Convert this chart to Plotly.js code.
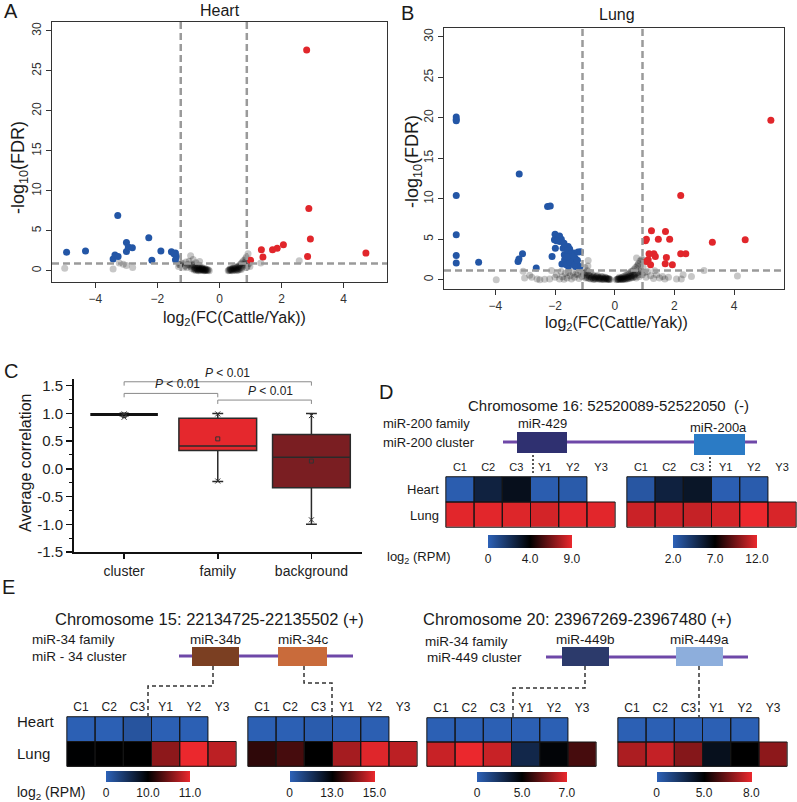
<!DOCTYPE html>
<html><head><meta charset="utf-8">
<script src="https://cdn.plot.ly/plotly-3.0.1.min.js"></script>
<style>html,body{margin:0;padding:0;background:#fff}</style>
</head><body><div id="chart" style="width:797px;height:802px"></div>
<script>
// ================= DATA =================
// Panel A (Heart volcano): log2 fold change (x) and -log10 FDR (y)
const heartDownX = [-4.93,-4.32,-3.28,-3.43,-3.37,-3.27,-3.00,-3.00,-2.94,-2.81,-2.28,-2.18,-1.89,-1.55,-1.42,-1.39,-1.42,-1.47];
const heartDownY = [ 2.33, 2.46, 6.92, 1.46, 1.96, 1.79, 3.54, 2.42, 2.96, 2.88, 4.13, 1.33, 2.46, 2.38, 2.21, 1.79, 1.38, 2.13];
const heartUpX = [2.81,2.88,2.93,2.84,4.72,1.00,1.35,1.40,1.71,1.86,2.06];
const heartUpY = [27.6,7.79,3.96,1.79,2.21,1.33,2.63,1.71,2.63,2.83,3.25];
const heartNsOuterX = [-4.99,-3.43,-3.10,-3.00,-2.80,-3.23,1.33,2.57,0.92,-0.93,-1.28];
const heartNsOuterY = [ 0.33, 0.21, 0.83, 0.67, 0.42, 0.96,0.96,1.25,2.13, 1.88, 0.75];
const heartNsNegX = [-1.32,-1.28,-1.25,-1.20,-1.15,-1.10,-1.05,-1.02,-0.98,-0.92,
                     -0.90,-0.88,-0.85,-0.82,-0.80,-0.78,-0.76,-0.74,-0.72,-0.70,
                     -0.68,-0.66,-0.64,-0.62,-0.60,-0.58,-0.56,-0.54,-0.52,-0.50,
                     -0.48,-0.46,-0.44,-0.42,-0.40,-0.38,-0.72,-0.86,-0.95,-1.08,
                     -0.66,-0.82,-0.78,-0.75,-0.70,-0.65,-0.62,-0.57,-0.53,-0.49,
                     -0.45,-0.60,-0.68,-0.55,-0.47,-0.36,-0.33];
const heartNsNegY = [0.55,0.75,0.90,0.95,0.45,0.60,0.40,0.80,1.20,0.50,
                     0.30,0.65,1.40,0.25,0.45,0.15,1.00,0.35,0.20,0.10,
                     0.50,0.30,1.15,0.15,0.25,0.10,0.40,0.20,0.05,0.15,
                     0.30,0.10,0.05,0.20,0.10,0.05,0.60,0.80,0.70,1.10,
                     0.70,0.10,0.30,0.05,0.25,0.12,0.05,0.22,0.12,0.02,
                     0.18,0.35,0.02,0.30,0.08,0.12,0.02];
const heartNsPosX = [0.28,0.30,0.32,0.34,0.36,0.38,0.40,0.42,0.44,0.46,
                     0.48,0.50,0.52,0.54,0.56,0.58,0.60,0.62,0.64,0.66,
                     0.68,0.70,0.72,0.74,0.76,0.78,0.80,0.82,0.84,0.86,
                     0.87,0.90,0.95,0.98,0.45,0.55,0.65,0.35,0.50,0.40,
                     0.60,0.70];
const heartNsPosY = [0.02,0.10,0.05,0.15,0.08,0.20,0.12,0.25,0.05,0.30,
                     0.18,0.10,0.35,0.22,0.40,0.15,0.50,0.30,0.60,0.75,
                     0.45,0.90,0.35,1.10,0.60,1.30,0.80,0.96,1.50,1.70,
                     0.40,0.60,0.90,0.55,0.40,0.05,0.20,0.30,0.55,0.02,
                     0.08,0.15];

// Panel B (Lung volcano)
const lungDownX = [-5.31,-5.31,-5.31,-5.31,-5.31,-5.31,-5.31,-4.56,-3.20,-3.24,
                   -3.21,-3.09,-2.63,-2.25,-2.16,-2.10,-2.00,-2.02,-1.99,-1.90,
                   -1.84,-1.79,-1.77,-1.73,-1.69,-1.64,-1.56,-1.51,-1.68,-1.45,
                   -1.42,-1.37,-1.33,-1.23,-1.17,-1.31,-1.55,-1.62,-1.15,-1.28,
                   -1.85,-1.95,-1.70,-1.58,-1.48,-1.40,-1.50,-1.35,-1.25,-1.60];
const lungDownY = [20.1,19.8,19.65,10.4,5.55,3.00,2.05,2.14,13.07,2.26,
                   2.55,3.20,1.44,9.04,9.12,2.88,5.63,4.93,3.90,5.01,
                   4.73,5.01,1.93,3.90,3.08,3.90,4.11,3.78,2.47,2.55,
                   2.06,3.29,2.67,3.41,1.64,1.64,1.64,1.85,3.45,2.06,
                   5.40,4.80,4.50,3.60,3.20,2.90,2.20,1.80,2.40,2.80];
const lungUpX = [5.23,2.21,1.70,1.23,1.06,1.03,1.46,1.84,3.27,4.37,2.21,2.38,1.31,1.15,1.36,1.73,1.12,1.06,1.20,1.69,1.93];
const lungUpY = [19.7,10.4,5.96,6.04,5.01,4.81,5.01,5.01,4.64,4.93,3.20,3.20,3.20,3.20,2.88,2.75,2.47,2.26,1.85,1.97,1.85];
const lungNsNegX = [-3.97,-3.07,-2.85,-3.02,-2.78,-2.60,-2.51,-2.35,-2.18,-2.12,
                    -2.00,-1.95,-1.85,-1.80,-1.75,-1.70,-1.65,-1.60,-1.55,-1.50,
                    -1.45,-1.40,-1.35,-1.30,-1.25,-1.20,-1.15,-1.10,-1.05,-1.00,
                    -0.95,-0.92,-0.89,-0.88,-0.85,-0.82,-0.80,-0.78,-0.75,-0.72,
                    -0.70,-0.68,-0.65,-0.62,-0.60,-0.58,-0.55,-0.52,-0.50,-0.48,
                    -0.45,-0.42,-0.40,-0.38,-0.35,-0.32,-0.30,-0.28,-0.25,-0.22,
                    -0.20,-0.90,-0.98,-0.95,-0.90,-0.85,-0.80,-0.75,-0.70,-0.65,
                    -0.60,-0.55,-0.50,-0.45,-0.40,-0.35,-0.30,-0.25,-0.20,-0.18,
                    -0.15,-1.02,-0.98];
const lungNsNegY = [0.00,1.03,0.55,0.20,0.30,0.10,0.00,0.05,0.08,1.15,
                    0.30,0.60,0.10,1.00,0.35,0.05,0.80,0.20,0.90,0.50,
                    0.10,0.90,0.30,0.70,0.60,0.15,1.00,0.40,0.75,1.50,
                    0.30,1.10,2.38,0.60,0.15,0.90,0.40,0.20,0.65,0.10,
                    0.45,0.25,0.05,0.35,0.15,0.55,0.10,0.30,0.05,0.20,
                    0.40,0.10,0.25,0.05,0.15,0.30,0.08,0.20,0.05,0.12,
                    0.02,1.70,0.90,0.50,0.20,0.45,0.10,0.30,0.05,0.20,
                    0.40,0.25,0.15,0.05,0.35,0.02,0.20,0.10,0.15,0.05,
                    0.02,0.60,0.20];
const lungNsPosX = [0.05,0.08,0.10,0.12,0.15,0.18,0.20,0.22,0.25,0.28,
                    0.30,0.32,0.35,0.38,0.40,0.42,0.45,0.48,0.50,0.52,
                    0.55,0.58,0.60,0.62,0.65,0.68,0.70,0.72,0.75,0.78,
                    0.80,0.82,0.85,0.88,0.90,0.92,0.95,1.00,1.05,1.10,
                    1.20,1.30,1.34,1.40,1.50,1.60,1.68,1.80,2.07,2.23,
                    2.29,2.57,2.99,4.11,0.73,0.78,0.95,0.35,0.45,0.55,
                    0.65,0.25,0.15,0.12,0.18,0.22,0.28,0.32,0.38,0.42,
                    0.48,0.52,0.58,0.62,0.68,0.72,0.80,0.85];
const lungNsPosY = [0.00,0.05,0.10,0.02,0.15,0.08,0.20,0.05,0.30,0.12,
                    0.40,0.20,0.50,0.30,0.60,0.10,0.70,0.40,0.85,0.20,
                    1.00,0.50,1.10,0.30,1.30,0.70,1.50,0.20,1.70,0.90,
                    2.00,0.40,2.30,1.20,2.50,0.60,1.60,0.90,0.30,1.00,
                    0.50,0.15,1.10,0.60,0.20,0.40,0.08,0.30,0.08,0.08,
                    0.60,0.40,1.15,0.45,2.67,1.85,2.47,0.05,0.25,0.35,
                    0.55,0.02,0.30,0.10,0.02,0.18,0.05,0.10,0.12,0.30,
                    0.15,0.45,0.25,0.60,0.35,0.80,0.60,1.00];

// Panel C (average correlation boxplots)
const corrGroups = ['cluster','family','background'];
const corrQ1     = [0.97, 0.33, -0.34];
const corrMedian = [0.98, 0.41,  0.21];
const corrQ3     = [0.99, 0.91,  0.62];
const corrLower  = [0.96,-0.23, -1.00];
const corrUpper  = [1.00, 1.00,  1.00];
const corrMean   = [0.96, 0.54,  0.14];
const corrP1     = [0.93,-0.22, -0.92];
const corrP99    = [0.99, 0.99,  0.96];
const corrTickVals = [-1.5,-1.0,-0.5,0.0,0.5,1.0,1.5];
const corrTickText = ['-1.5','-1.0','-0.5','0.0','0.5','1.0','1.5'];

// Panels D/E heatmaps: log2(RPM)
const heatCols = ['C1','C2','C3','Y1','Y2','Y3'];
const heatRows = ['Heart','Lung'];
const miR429Heart  = [0.2, 2.6, 3.4, 0.2, 0.3, null];
const miR429Lung   = [8.8, 8.8, 8.7, 8.5, 8.8, 8.8];
const miR429Scale  = [0, 4, 9];
const miR200aHeart = [2.6, 5.3, 5.9, 2.2, 2.3, null];
const miR200aLung  = [11.3, 11.3, 11.2, 11.5, 12.0, 11.6];
const miR200aScale = [2, 7, 12];
const miR34bHeart  = [0.2, 0.2, 1.4, 0.2, 0.2, null];
const miR34bLung   = [9.9, 10.0, 10.0, 10.6, 11.0, 10.8];
const miR34bScale  = [0, 10, 11];
const miR34cHeart  = [0.3, 0.3, 0.8, 0.3, 0.4, null];
const miR34cLung   = [13.4, 13.6, 13.0, 14.4, 14.9, 14.6];
const miR34cScale  = [0, 13, 15];
const miR449bHeart = [0.1, 0.1, 0.1, 0.1, 0.1, null];
const miR449bLung  = [6.7, 7.0, 6.7, 3.0, 4.8, 5.6];
const miR449bScale = [0, 5, 7];
const miR449aHeart = [0.1, 0.1, 0.1, 0.1, 0.1, null];
const miR449aLung  = [7.2, 7.5, 6.7, 4.2, 5.0, 6.8];
const miR449aScale = [0, 5, 8];

// ================= LAYOUT HELPERS =================
const W = 797, H = 802;
const X = px => px / W;
const Y = py => 1 - py / H;
const domX = (l, r) => [X(l), Math.min(1, X(r))];
const domY = (t, b) => [Y(b), Y(t)];
const FONT = 'Liberation Sans, Arial, Helvetica, sans-serif';
const BLUE = '#2356A6', RED = '#E1262B', NS = 'rgba(0,0,0,0.22)';
const HEAT_SCALE = [[0,'#2D62B8'],[0.5,'#000000'],[1,'#EB282D']];

const traces = [];
const shapes = [];
const annotations = [];
const layout = {
  width: W, height: H,
  margin: {l:0, r:0, t:0, b:0, autoexpand:false},
  paper_bgcolor: '#ffffff', plot_bgcolor: 'rgba(0,0,0,0)',
  font: {family: FONT, color: '#1a1a1a'},
  showlegend: false
};

function pts(x, y, xa, ya, color) {
  traces.push({type:'scatter', mode:'markers', x, y, xaxis:xa, yaxis:ya,
    marker:{size:7, color, line:{width:0}}, hoverinfo:'skip', cliponaxis:true});
}

function volcanoAxes(n, xd, yd, xr, yr) {
  const common = {showgrid:false, zeroline:false, showline:true, mirror:true,
    linecolor:'#333', linewidth:1.2, ticks:'outside', ticklen:5, tickwidth:1,
    tickcolor:'#333', tickfont:{size:12, color:'#333'}, fixedrange:true};
  layout['xaxis'+n] = Object.assign({}, common, {domain:xd, anchor:'y'+n, range:xr, dtick:2, tick0:0});
  layout['yaxis'+n] = Object.assign({}, common, {domain:yd, anchor:'x'+n, range:yr, dtick:5, tick0:0, tickangle:-90});
}

// ---- Panel A ----
volcanoAxes('', domX(52,387), domY(22,282), [-5.4,5.4], [-1.4,31.1]);
layout.xaxis.anchor = 'y'; layout.yaxis.anchor = 'x';
pts(heartNsOuterX.concat(heartNsNegX, heartNsPosX), heartNsOuterY.concat(heartNsNegY, heartNsPosY), 'x', 'y', NS);
pts(heartDownX, heartDownY, 'x', 'y', BLUE);
pts(heartUpX, heartUpY, 'x', 'y', RED);
const heartThrX = [-1.25, 0.88], heartThrY = 0.92;
// ---- Panel B ----
volcanoAxes('2', domX(444,784), domY(28,289), [-5.72,5.67], [-1.15,31.1]);
pts(lungNsNegX.concat(lungNsPosX), lungNsNegY.concat(lungNsPosY), 'x2', 'y2', NS);
pts(lungDownX, lungDownY, 'x2', 'y2', BLUE);
pts(lungUpX, lungUpY, 'x2', 'y2', RED);
const lungThrX = [-1.08, 0.93], lungThrY = 1.15;

const dashStyle = {color:'#9a9a9a', width:2.5, dash:'7px,4px'};
[['x','y',heartThrX,heartThrY],['x2','y2',lungThrX,lungThrY]].forEach(([xa,ya,tx,ty]) => {
  tx.forEach(v => shapes.push({type:'line', xref:xa, yref:ya+' domain', x0:v, x1:v, y0:0, y1:1, line:dashStyle}));
  shapes.push({type:'line', xref:xa+' domain', yref:ya, x0:0, x1:1, y0:ty, y1:ty, line:dashStyle});
});

// ---- Panel C ----
layout.xaxis3 = {domain:domX(74,362), anchor:'y3', range:[-0.535,2.54], tickvals:[0,1,2], ticktext:corrGroups,
  showgrid:false, zeroline:false, showline:true, linecolor:'#111', linewidth:2, ticks:'outside', ticklen:5,
  tickwidth:1.5, tickcolor:'#111', tickfont:{size:14, color:'#222'}, fixedrange:true};
layout.yaxis3 = {domain:domY(379,552), anchor:'x3', range:[-1.5,1.62], tickvals:corrTickVals, ticktext:corrTickText,
  showgrid:false, zeroline:false, showline:true, linecolor:'#111', linewidth:2, ticks:'outside', ticklen:6,
  tickwidth:1.5, tickcolor:'#111', tickfont:{size:15, color:'#222'}, fixedrange:true,
  minor:{dtick:0.25, tick0:0, ticks:'outside', ticklen:3, tickcolor:'#111', tickwidth:1}};
const boxFill = ['#111111', '#E5282D', '#7A1E22'];
const boxWidth = [0.7, 0.83, 0.83];
corrGroups.forEach((g, i) => {
  traces.push({type:'box', xaxis:'x3', yaxis:'y3', x:[i], q1:[corrQ1[i]], median:[corrMedian[i]], q3:[corrQ3[i]],
    lowerfence:[corrLower[i]], upperfence:[corrUpper[i]], width:boxWidth[i], whiskerwidth:0.14,
    fillcolor:boxFill[i], line:{color:i===0?'#111':'#2a2a2a', width:i===0?2:1.5}, boxpoints:false, hoverinfo:'skip'});
});
traces.push({type:'scatter', mode:'markers', xaxis:'x3', yaxis:'y3', x:[0,1,2], y:corrMean,
  marker:{symbol:'square-open', size:4, color:'#333', line:{width:1}}, hoverinfo:'skip'});
traces.push({type:'scatter', mode:'markers', xaxis:'x3', yaxis:'y3', x:[0,1,2,0,1,2], y:corrP1.concat(corrP99),
  marker:{symbol:'x-thin-open', size:5, color:'#333', line:{width:1, color:'#333'}}, hoverinfo:'skip'});
const brackets = [[0,2,1.57,1.10],[0,1,1.36,0.57],[1,2,1.24,1.56]];
brackets.forEach(([a,b,yv,tx]) => {
  shapes.push({type:'path', xref:'x3', yref:'y3', path:`M ${a},${yv-0.07} L ${a},${yv} L ${b},${yv} L ${b},${yv-0.07}`,
    line:{color:'#8a8a8a', width:1}});
  annotations.push({xref:'x3', yref:'y3', x:tx, y:yv, yanchor:'bottom', yshift:0, showarrow:false,
    text:'<i>P</i> &lt; 0.01', font:{size:12, color:'#222'}});
});

// ---- Heatmaps (D, E) ----
const norm = (v, s) => v === null ? null :
  (v <= s[1] ? 0.5 * (v - s[0]) / (s[1] - s[0]) : 0.5 + 0.5 * (v - s[1]) / (s[2] - s[1]));
const fmt = v => v === 0 ? '0' : v.toFixed(1);
const heatmaps = [
  {n:4, heart:miR429Heart,  lung:miR429Lung,  scale:miR429Scale,  xd:[445,616], yd:[476,528], cb:[530,535,84,13], tf:11},
  {n:5, heart:miR200aHeart, lung:miR200aLung, scale:miR200aScale, xd:[626,797], yd:[476,528], cb:[715,535,84,13], tf:11},
  {n:6, heart:miR34bHeart,  lung:miR34bLung,  scale:miR34bScale,  xd:[66,237],  yd:[716,767], cb:[148,771,84,11], tf:12},
  {n:7, heart:miR34cHeart,  lung:miR34cLung,  scale:miR34cScale,  xd:[247,418], yd:[716,767], cb:[332,771,85,11], tf:12},
  {n:8, heart:miR449bHeart, lung:miR449bLung, scale:miR449bScale, xd:[426,597], yd:[717,767], cb:[522,772,90,10], tf:12},
  {n:9, heart:miR449aHeart, lung:miR449aLung, scale:miR449aScale, xd:[617,788], yd:[717,767], cb:[704,772,95,10], tf:12}
];
heatmaps.forEach(h => {
  const xa = 'x' + h.n, ya = 'y' + h.n;
  layout['xaxis' + h.n] = {domain:domX(h.xd[0], h.xd[1]), anchor:ya, type:'category', side:'top',
    range:[-0.53, 5.53], showgrid:false, zeroline:false, showline:false, ticks:'', ticklabelstandoff:2,
    tickfont:{size:h.tf, color:'#1a1a1a'}, fixedrange:true};
  layout['yaxis' + h.n] = {domain:domY(h.yd[0], h.yd[1]), anchor:xa, type:'category', range:[1.53, -0.53],
    showgrid:false, zeroline:false, showline:false, showticklabels:false, ticks:'', fixedrange:true};
  const [cx, top, len, th] = h.cb;
  traces.push({type:'heatmap', xaxis:xa, yaxis:ya, x:heatCols, y:heatRows,
    z:[h.heart.map(v => norm(v, h.scale)), h.lung.map(v => norm(v, h.scale))],
    zmin:0, zmax:1, colorscale:HEAT_SCALE, hoverinfo:'skip', showscale:true,
    colorbar:{orientation:'h', x:X(cx), xanchor:'center', y:Y(top), yanchor:'top', len, lenmode:'pixels',
      thickness:th, thicknessmode:'pixels', outlinewidth:0, xpad:0, ypad:0, tickmode:'array',
      tickvals:[0.001, 0.5, 0.999], ticktext:h.scale.map(fmt), ticks:'', tickfont:{size:12, color:'#1a1a1a'}}});
  [h.heart, h.lung].forEach((row, j) => row.forEach((v, i) => {
    if (v === null) return;
    shapes.push({type:'rect', xref:xa, yref:ya, x0:i-0.5, x1:i+0.5, y0:j-0.5, y1:j+0.5, line:{color:'#151515', width:1}});
  }));
});

// ---- Canvas overlay (pixel coordinates) for labels and gene schematics ----
layout.xaxis10 = {domain:[0,1], anchor:'y10', range:[0,W], visible:false, fixedrange:true};
layout.yaxis10 = {domain:[0,1], anchor:'x10', range:[H,0], visible:false, fixedrange:true};
traces.push({type:'scatter', x:[], y:[], xaxis:'x10', yaxis:'y10', hoverinfo:'skip'});
const T = (x, y, text, size, o) => annotations.push(Object.assign({xref:'x10', yref:'y10', x, y, text,
  showarrow:false, xanchor:'center', yanchor:'middle', font:{size, color:'#1a1a1a'}}, o || {}));
const L = (x0, y0, x1, y1, color, width, dash) => shapes.push({type:'line', xref:'x10', yref:'y10', x0, y0, x1, y1,
  line:{color, width, dash: dash || 'solid'}});
const R = (x0, y0, x1, y1, fill) => shapes.push({type:'rect', xref:'x10', yref:'y10', x0, y0, x1, y1,
  fillcolor:fill, line:{width:0}});
const Pth = (d, color, width, dash) => shapes.push({type:'path', xref:'x10', yref:'y10', path:d,
  line:{color, width, dash}});

// panel letters
T(2, 11, 'A', 20, {xanchor:'left'});
T(399, 13, 'B', 20, {xanchor:'left'});
T(2, 371, 'C', 20, {xanchor:'left'});
T(377, 392, 'D', 20, {xanchor:'left'});
T(0, 587, 'E', 20, {xanchor:'left'});
// volcano titles
T(220, 10, 'Heart', 16);
T(617, 14, 'Lung', 16);
T(19, 168, '-log<sub>10</sub>(FDR)', 18, {textangle:-90});
T(413, 162, '-log<sub>10</sub>(FDR)', 18, {textangle:-90});
T(234, 318, 'log<sub>2</sub>(FC(Cattle/Yak))', 16);
T(616, 323, 'log<sub>2</sub>(FC(Cattle/Yak))', 16);
// panel C y title
T(25, 463, 'Average correlation', 16, {textangle:-90});

// panel D
const PURPLE = '#6E48A8';
T(608, 405, 'Chromosome 16: 52520089-52522050 &nbsp;(-)', 15);
T(381, 423, 'miR-200 family', 13, {xanchor:'left'});
T(381, 442, 'miR-200 cluster', 13, {xanchor:'left'});
L(503, 442, 757, 442, PURPLE, 3);
R(517, 432, 567, 453, '#2F3070');
R(694, 434, 745, 455, '#2B7BC5');
T(542, 423, 'miR-429', 13);
T(718, 427, 'miR-200a', 13);
L(533, 455, 533, 473, '#222', 1.5, '2px,2px');
L(710, 457, 710, 473, '#222', 1.5, '2px,2px');
T(441, 489, 'Heart', 13, {xanchor:'right'});
T(441, 515, 'Lung', 13, {xanchor:'right'});
T(453, 557, 'log<sub>2</sub> (RPM)', 13, {xanchor:'right'});

// panel E
T(209, 619, 'Chromosome 15: 22134725-22135502 (+)', 16.5);
T(577, 619, 'Chromosome 20: 23967269-23967480 (+)', 16.5);
T(30, 639, 'miR-34 family', 13.5, {xanchor:'left'});
T(30, 656, 'miR - 34 cluster', 13.5, {xanchor:'left'});
T(423, 641, 'miR-34 family', 13.5, {xanchor:'left'});
T(425, 657, 'miR-449 cluster', 13.5, {xanchor:'left'});
L(179, 656, 353, 656, PURPLE, 3);
L(546, 657, 748, 657, PURPLE, 3);
R(192, 647, 239, 666, '#7B3F22');
R(278, 647, 327, 666, '#C96B3B');
R(562, 647, 609, 666, '#2C3A6B');
R(676, 647, 723, 666, '#8DAEDC');
T(215, 639, 'miR-34b', 13.5);
T(303, 639, 'miR-34c', 13.5);
T(585, 639, 'miR-449b', 13.5);
T(699, 639, 'miR-449a', 13.5);
const DASH = '4px,3px';
Pth('M 213,666 L 213,686 L 148,686 L 148,716', '#333', 1.5, DASH);
Pth('M 304,666 L 304,683 L 332,683 L 332,716', '#333', 1.5, DASH);
Pth('M 585,666 L 585,688 L 513,688 L 513,717', '#333', 1.5, DASH);
Pth('M 699,666 L 699,717', '#333', 1.5, DASH);
T(15, 721, 'Heart', 15, {xanchor:'left'});
T(15, 753, 'Lung', 15, {xanchor:'left'});
T(15, 793, 'log<sub>2</sub> (RPM)', 14, {xanchor:'left'});

layout.shapes = shapes;
layout.annotations = annotations;
Plotly.newPlot('chart', traces, layout, {staticPlot:true, displayModeBar:false});
</script></body></html>
